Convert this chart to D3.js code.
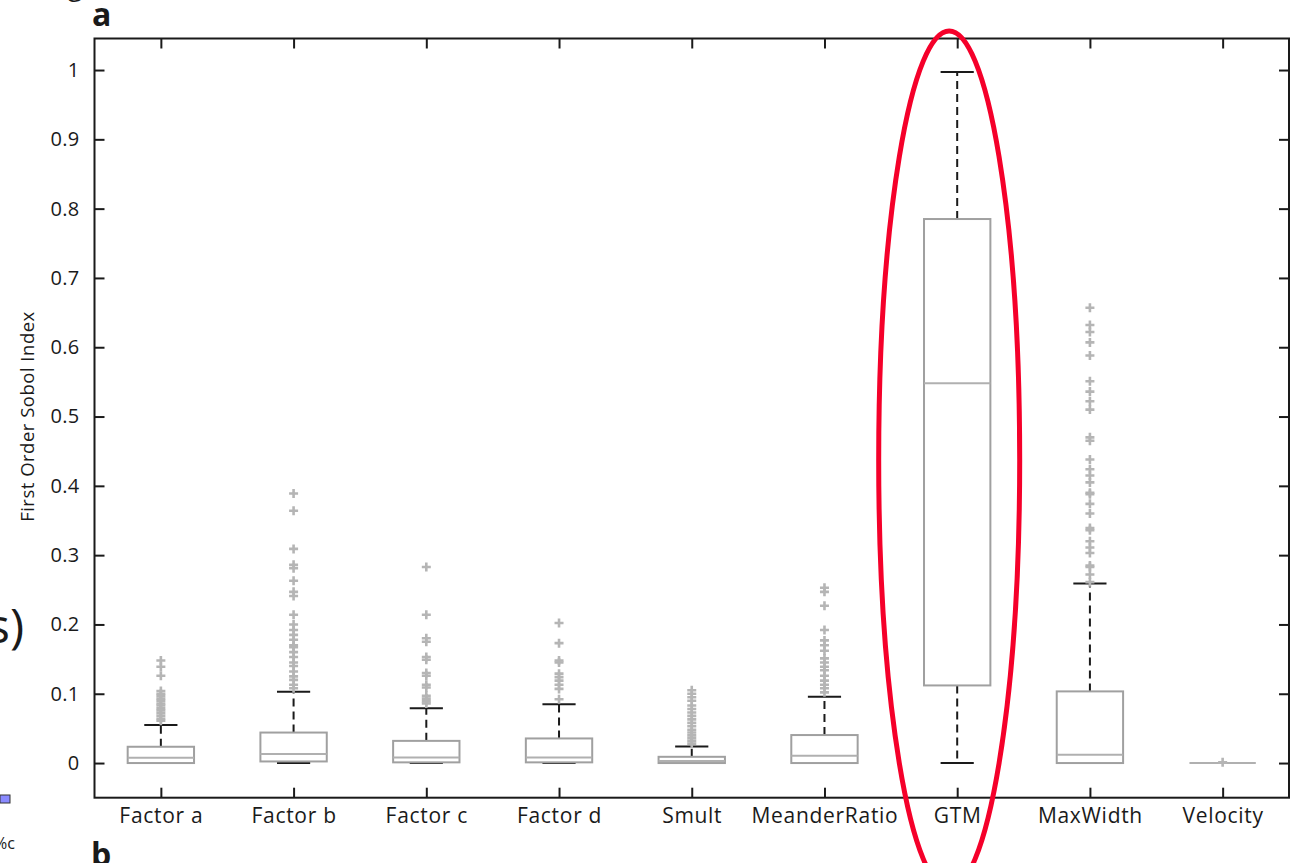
<!DOCTYPE html>
<html>
<head>
<meta charset="utf-8">
<script src="https://cdn.jsdelivr.net/npm/d3@7/dist/d3.min.js"></script>
<style>
  html, body { margin: 0; padding: 0; background: #fff; }
  svg { display: block; }
  text { font-family: "Open Sans", "Noto Sans", sans-serif; fill: #1a1a1a; }
</style>
</head>
<body>
<svg id="chart" width="1293" height="863"></svg>
<script>
// First-order Sobol indices per model parameter (box plot summaries)
const categories = ["Factor a", "Factor b", "Factor c", "Factor d", "Smult",
                    "MeanderRatio", "GTM", "MaxWidth", "Velocity"];
const whiskerLow  = [0, 0, 0, 0, 0, 0, 0, 0, 0];
const q1          = [0, 0.0023, 0.001, 0.001, 0, 0, 0.112, 0, 0];
const median      = [0.0077, 0.013, 0.008, 0.008, 0.003, 0.0105, 0.548, 0.012, 0];
const q3          = [0.0235, 0.044, 0.032, 0.0355, 0.009, 0.0404, 0.785, 0.1034, 0];
const whiskerHigh = [0.055, 0.103, 0.079, 0.085, 0.024, 0.0958, 0.997, 0.259, 0];

const outliersFactorA = [0.148, 0.139, 0.126, 0.104, 0.1, 0.097, 0.093, 0.09, 0.086,
                         0.083, 0.079, 0.076, 0.072, 0.068, 0.064, 0.061];
const outliersFactorB = [0.389, 0.364, 0.309, 0.286, 0.281, 0.263, 0.247, 0.241, 0.214,
                         0.2, 0.192, 0.185, 0.178, 0.17, 0.167, 0.16, 0.153, 0.145,
                         0.14, 0.132, 0.125, 0.12, 0.113, 0.108];
const outliersFactorC = [0.283, 0.214, 0.18, 0.175, 0.153, 0.149, 0.13, 0.126, 0.113,
                         0.109, 0.097, 0.093, 0.089, 0.086];
const outliersFactorD = [0.202, 0.173, 0.148, 0.145, 0.129, 0.124, 0.119, 0.113,
                         0.107, 0.092];
const outliersSmult = [0.105, 0.1, 0.095, 0.09, 0.083, 0.078, 0.073, 0.068, 0.063,
                       0.058, 0.053, 0.048, 0.044, 0.04, 0.036, 0.032, 0.028];
const outliersMeander = [0.253, 0.247, 0.227, 0.192, 0.177, 0.17, 0.162, 0.151, 0.145,
                         0.139, 0.134, 0.126, 0.119, 0.113, 0.108, 0.102];
const outliersGTM = [];
const outliersMaxWidth = [0.657, 0.632, 0.622, 0.607, 0.588, 0.551, 0.536, 0.522, 0.51,
                          0.47, 0.465, 0.438, 0.424, 0.415, 0.405, 0.39, 0.388, 0.374,
                          0.36, 0.339, 0.336, 0.32, 0.311, 0.303, 0.285, 0.283, 0.272,
                          0.261];
const outliersVelocity = [0.001];
const outliers = [outliersFactorA, outliersFactorB, outliersFactorC, outliersFactorD,
                  outliersSmult, outliersMeander, outliersGTM, outliersMaxWidth,
                  outliersVelocity];

const yTickValues = [0, 0.1, 0.2, 0.3, 0.4, 0.5, 0.6, 0.7, 0.8, 0.9, 1];
const yTickLabels = ["0", "0.1", "0.2", "0.3", "0.4", "0.5", "0.6", "0.7", "0.8", "0.9", "1"];
const yLabel = "First Order Sobol Index";

const svg = d3.select("#chart");

const plotLeft = 94.5, plotRight = 1289, plotTop = 38.5, plotBottom = 797.7;
const x = d3.scaleLinear().domain([0.5, categories.length + 0.5]).range([plotLeft, plotRight]);
const y = d3.scaleLinear().domain([-0.05, 1.0455]).range([plotBottom, plotTop]);

const boxHalf = x(1.25) - x(1);      // half box width (0.25 units)
const capHalf = x(1.125) - x(1);     // half whisker cap width

// Axes: ticks point inward on all four sides
const tickLen = 10;
svg.append("g")
  .attr("transform", `translate(${plotLeft},0)`)
  .call(d3.axisLeft(y).tickValues(yTickValues)
        .tickFormat((d, i) => yTickLabels[i]).tickSizeInner(-tickLen).tickSizeOuter(0).tickPadding(15))
  .call(g => g.select(".domain").remove())
  .call(g => g.selectAll("line").attr("stroke", "#1a1a1a").attr("stroke-width", 2))
  .call(g => g.selectAll("text").style("font-size", "20px").style("letter-spacing", "0.3px"));

svg.append("g")
  .attr("transform", `translate(${plotRight},0)`)
  .call(d3.axisRight(y).tickValues(yTickValues).tickFormat("").tickSizeInner(-tickLen).tickSizeOuter(0))
  .call(g => g.select(".domain").remove())
  .call(g => g.selectAll("line").attr("stroke", "#1a1a1a").attr("stroke-width", 2));

const xIdx = d3.range(1, categories.length + 1);
svg.append("g")
  .attr("transform", `translate(0,${plotBottom})`)
  .call(d3.axisBottom(x).tickValues(xIdx).tickFormat(i => categories[i - 1])
        .tickSizeInner(-tickLen).tickSizeOuter(0).tickPadding(10))
  .call(g => g.select(".domain").remove())
  .call(g => g.selectAll("line").attr("stroke", "#1a1a1a").attr("stroke-width", 2))
  .call(g => g.selectAll("text").style("font-size", "21px").style("letter-spacing", "0.7px"));

svg.append("g")
  .attr("transform", `translate(0,${plotTop})`)
  .call(d3.axisTop(x).tickValues(xIdx).tickFormat("").tickSizeInner(-tickLen).tickSizeOuter(0))
  .call(g => g.select(".domain").remove())
  .call(g => g.selectAll("line").attr("stroke", "#1a1a1a").attr("stroke-width", 2));

// Plot frame
svg.append("rect")
  .attr("x", plotLeft).attr("y", plotTop)
  .attr("width", plotRight - plotLeft).attr("height", plotBottom - plotTop)
  .attr("fill", "none").attr("stroke", "#1a1a1a").attr("stroke-width", 2);

// Y axis title
svg.append("text")
  .attr("transform", `translate(34,${y(0.5)}) rotate(-90)`)
  .attr("text-anchor", "middle")
  .style("font-size", "18.5px").style("letter-spacing", "0.5px")
  .text(yLabel);

// Box plots
const boxes = categories.map((c, i) => ({
  i: i + 1, lo: whiskerLow[i], q1: q1[i], med: median[i], q3: q3[i], hi: whiskerHigh[i],
  out: outliers[i]
}));

const bx = svg.append("g").selectAll("g.box").data(boxes).join("g").attr("class", "box");

// whiskers (dashed)
bx.append("line")
  .attr("x1", d => x(d.i)).attr("x2", d => x(d.i))
  .attr("y1", d => y(d.q3)).attr("y2", d => y(d.hi))
  .attr("stroke", "#1a1a1a").attr("stroke-width", 2).attr("stroke-dasharray", "8,5");
bx.append("line")
  .attr("x1", d => x(d.i)).attr("x2", d => x(d.i))
  .attr("y1", d => y(d.q1)).attr("y2", d => y(d.lo))
  .attr("stroke", "#1a1a1a").attr("stroke-width", 2).attr("stroke-dasharray", "8,5");
// caps
bx.append("line")
  .attr("x1", d => x(d.i) - capHalf).attr("x2", d => x(d.i) + capHalf)
  .attr("y1", d => y(d.hi)).attr("y2", d => y(d.hi))
  .attr("stroke", "#1a1a1a").attr("stroke-width", 2);
bx.append("line")
  .attr("x1", d => x(d.i) - capHalf).attr("x2", d => x(d.i) + capHalf)
  .attr("y1", d => y(d.lo)).attr("y2", d => y(d.lo))
  .attr("stroke", "#1a1a1a").attr("stroke-width", 2);
// box
bx.append("rect")
  .attr("x", d => x(d.i) - boxHalf).attr("width", 2 * boxHalf)
  .attr("y", d => y(d.q3)).attr("height", d => Math.max(0, y(d.q1) - y(d.q3)))
  .attr("fill", "#fff").attr("stroke", "#a0a0a0").attr("stroke-width", 2);
// median
bx.append("line")
  .attr("x1", d => x(d.i) - boxHalf).attr("x2", d => x(d.i) + boxHalf)
  .attr("y1", d => y(d.med)).attr("y2", d => y(d.med))
  .attr("stroke", "#b0b0b0").attr("stroke-width", 2);
// outliers as '+' markers
bx.each(function (d) {
  d3.select(this).selectAll("path.out").data(d.out).join("path")
    .attr("class", "out")
    .attr("transform", v => `translate(${x(d.i)},${y(v)})`)
    .attr("d", "M-4.5,0H4.5M0,-4.5V4.5")
    .attr("stroke", "#b5b5b5").attr("stroke-width", 2.6).attr("fill", "none");
});

// Highlight around the GTM box
svg.append("ellipse")
  .attr("cx", x(7) - 8).attr("cy", 460)
  .attr("rx", 70.5).attr("ry", 429)
  .attr("fill", "none").attr("stroke", "#f5002a").attr("stroke-width", 5);

// Panel letters and surrounding page fragments
svg.append("text").attr("x", 92).attr("y", 26)
  .style("font-size", "32px").style("font-weight", "bold").text("a");
svg.append("text").attr("x", 91).attr("y", 866)
  .style("font-size", "32px").style("font-weight", "bold").text("b");
svg.append("text").attr("x", 68).attr("y", -4)
  .style("font-size", "26px").text("g");
svg.append("text").attr("x", -13).attr("y", 643)
  .style("font-size", "48px").text("s)");
svg.append("rect").attr("x", 0).attr("y", 795).attr("width", 10).attr("height", 8)
  .attr("fill", "#8a8aff").attr("stroke", "#333").attr("stroke-width", 1);
svg.append("text").attr("x", -6).attr("y", 849)
  .style("font-size", "16px").text("%c");
</script>
</body>
</html>
